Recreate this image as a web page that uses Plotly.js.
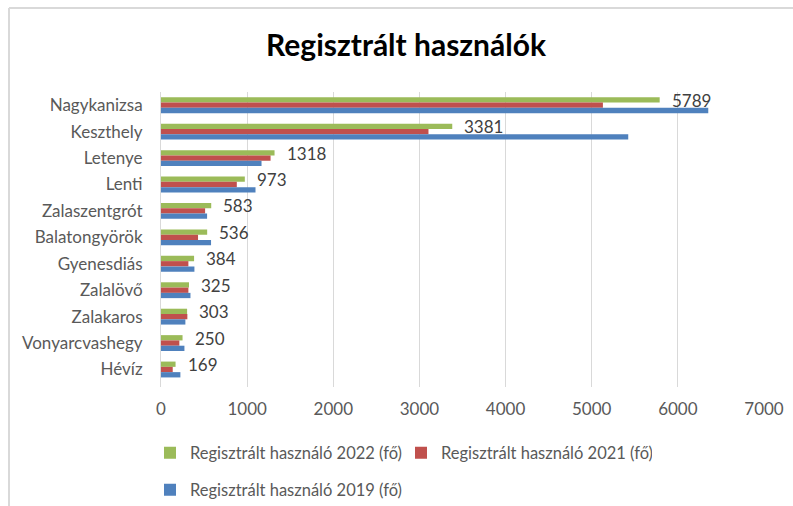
<!DOCTYPE html>
<html>
<head>
<meta charset="utf-8">
<script src="https://cdn.plot.ly/plotly-3.0.1.min.js"></script>
<style>html,body{margin:0;padding:0;background:#fff;}#chart{width:793px;height:506px;}</style>
</head>
<body>
<div id="chart"></div>
<script>
const categories = ["Nagykanizsa","Keszthely","Letenye","Lenti","Zalaszentgrót","Balatongyörök","Gyenesdiás","Zalalövő","Zalakaros","Vonyarcvashegy","Hévíz"];
const users2022 = [5789,3381,1318,973,583,536,384,325,303,250,169];
const users2021 = [5130,3105,1272,880,512,430,318,318,306,213,136];
const users2019 = [6353,5424,1167,1097,535,581,388,342,283,272,225];
const seriesNames = ["Regisztrált használó 2022 (fő)","Regisztrált használó 2021 (fő)","Regisztrált használó 2019 (fő)"];
const xTicks = [0,1000,2000,3000,4000,5000,6000,7000];

const W = 793, H = 506;
const M = {l:161, r:29, t:92, b:119, autoexpand:false};
const pw = W - M.l - M.r, ph = H - M.t - M.b;
const px2x = px => (px - M.l) / pw;
const py2y = py => (H - M.b - py) / ph;

const FONT = "Lato, 'Open Sans', sans-serif";
const GRAY = "#595959";

function bar(name, vals, color, legend) {
  return {type:"bar", orientation:"h", name:name, x:vals, y:categories,
    marker:{color:color, line:{width:0}}, legend:legend, hoverinfo:"x+y"};
}
const data = [
  bar(seriesNames[0], users2022, "#9bbb59", "legend"),
  bar(seriesNames[1], users2021, "#c0504d", "legend"),
  bar(seriesNames[2], users2019, "#4f81bd", "legend2")
];

const annotations = categories.map((c,i) => ({
  x: users2022[i], y: c, xref:"x", yref:"y", text: String(users2022[i]),
  showarrow:false, xanchor:"left", yanchor:"middle", xshift:10, yshift:5,
  font:{family:FONT, size:17, color:"#404040"}
}));

const layout = {
  width: W, height: H,
  margin: M,
  paper_bgcolor:"#fff", plot_bgcolor:"#fff",
  font:{family:FONT, color:GRAY},
  title:{text:"<b>Regisztrált használók</b>", x:(406)/W, xanchor:"center", y:1-45/H, yanchor:"middle",
    font:{family:FONT, size:30, color:"#000"}},
  barmode:"group", bargap:0.4, bargroupgap:0,
  xaxis:{range:[0,7000], tickvals:xTicks, ticktext:xTicks.map(String), showgrid:true, gridcolor:"#d9d9d9", gridwidth:1,
    zeroline:false, showline:false, ticks:"", ticklabelstandoff:10, tickfont:{family:FONT, size:17, color:GRAY}, fixedrange:true},
  yaxis:{type:"category", autorange:"reversed", showgrid:false, zeroline:false, showline:true, linecolor:"#d9d9d9", linewidth:1,
    ticks:"", ticklabelstandoff:14, tickfont:{family:FONT, size:17, color:GRAY}, fixedrange:true},
  showlegend:true,
  legend:{orientation:"h", x:px2x(150), xanchor:"left", y:py2y(453), yanchor:"middle", entrywidth:206, entrywidthmode:"pixels",
    font:{family:FONT, size:16.5, color:GRAY}, bgcolor:"rgba(0,0,0,0)"},
  legend2:{orientation:"h", x:px2x(150), xanchor:"left", y:py2y(490), yanchor:"middle",
    font:{family:FONT, size:16.5, color:GRAY}, bgcolor:"rgba(0,0,0,0)"},
  annotations: annotations,
  shapes:[
    {type:"line", xref:"paper", yref:"paper", x0:px2x(9), x1:px2x(W+5), y0:py2y(8), y1:py2y(8), line:{color:"#d9d9d9", width:2}},
    {type:"line", xref:"paper", yref:"paper", x0:px2x(9), x1:px2x(9), y0:py2y(8), y1:py2y(H+5), line:{color:"#d9d9d9", width:2}}
  ]
};

Plotly.newPlot("chart", data, layout, {displayModeBar:false, staticPlot:true});
</script>
</body>
</html>
